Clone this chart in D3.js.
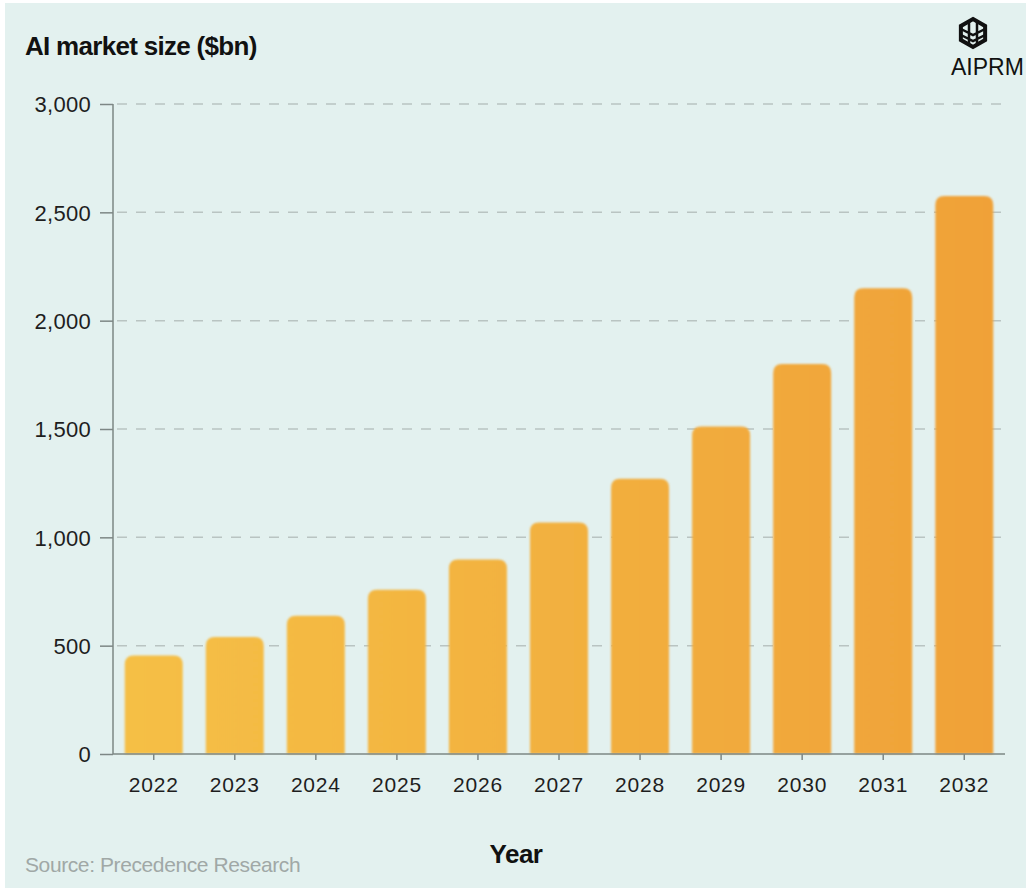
<!DOCTYPE html>
<html><head><meta charset="utf-8">
<script src="https://cdn.jsdelivr.net/npm/d3@7"></script>
<style>
html,body{margin:0;padding:0;background:#fff;}
svg{display:block;}
text{font-family:"Liberation Sans","Helvetica Neue",Arial,sans-serif;}
</style></head>
<body>
<script>
const years = ["2022","2023","2024","2025","2026","2027","2028","2029","2030","2031","2032"];
const marketSize = [455, 540, 638, 758, 898, 1068, 1270, 1512, 1800, 2150, 2575];
const yTicks = [0, 500, 1000, 1500, 2000, 2500, 3000];
const titleText = "AI market size ($bn)";
const xTitle = "Year";
const sourceText = "Source: Precedence Research";
const brand = "AIPRM";

(function () {
const W = 1026, H = 890;
const svg = d3.select("body").append("svg").attr("width", W).attr("height", H);

svg.append("rect").attr("x", 5).attr("y", 3).attr("width", W - 5).attr("height", H - 5).attr("fill", "#e3f1ef");

const defs = svg.append("defs");
const grad = defs.append("linearGradient").attr("id", "barGrad")
  .attr("gradientUnits", "userSpaceOnUse").attr("x1", 113).attr("x2", 1005).attr("y1", 0).attr("y2", 0);
grad.append("stop").attr("offset", "0%").attr("stop-color", "#f5c046");
grad.append("stop").attr("offset", "100%").attr("stop-color", "#f0a138");
const blur = defs.append("filter").attr("id", "soft").attr("x", "-20%").attr("y", "-20%").attr("width", "140%").attr("height", "140%");
blur.append("feGaussianBlur").attr("stdDeviation", 1.2);

const pL = 113, pR = 1005, pT = 104, pB = 754;
const x = d3.scaleBand().domain(years).range([pL, pR]).paddingInner(0.285).paddingOuter(0.145);
const y = d3.scaleLinear().domain([0, 3000]).range([pB, pT]);

// gridlines
svg.append("g").selectAll("line").data(yTicks.filter(d => d > 0)).join("line")
  .attr("x1", pL + 4).attr("x2", pR).attr("y1", d => y(d)).attr("y2", d => y(d))
  .attr("stroke", "#b9c4c2").attr("stroke-width", 1.5).attr("stroke-dasharray", "10,9");

// bars
const r = 9;
svg.append("g").selectAll("path").data(marketSize).join("path")
  .attr("filter", "url(#soft)")
  .attr("fill", "url(#barGrad)")
  .attr("d", (d, i) => {
    const x0 = x(years[i]), w = x.bandwidth(), y0 = y(d), yb = y(0);
    return `M${x0},${yb}V${y0 + r}Q${x0},${y0} ${x0 + r},${y0}H${x0 + w - r}Q${x0 + w},${y0} ${x0 + w},${y0 + r}V${yb}Z`;
  });

// y axis
const yAxis = svg.append("g").attr("transform", `translate(${pL},0)`)
  .call(d3.axisLeft(y).tickValues(yTicks).tickSize(13).tickPadding(9).tickFormat(d3.format(",")));
yAxis.select(".domain").attr("stroke", "#7d8785").attr("stroke-width", 1.5).attr("d", `M0,${pT}V${pB}`);
yAxis.selectAll(".tick line").attr("stroke", "#7d8785").attr("stroke-width", 1.5);
yAxis.selectAll(".tick text").attr("fill", "#1e1e1e").style("font-size", "22px").style("letter-spacing", "0.3px").attr("dy", "0.36em");

// x axis
const xAxis = svg.append("g").attr("transform", `translate(0,${pB})`)
  .call(d3.axisBottom(x).tickSize(6).tickPadding(17));
xAxis.select(".domain").attr("stroke", "#7d8785").attr("stroke-width", 1.5).attr("d", `M${pL},0H${pR}`);
xAxis.selectAll(".tick line").attr("stroke", "#7d8785").attr("stroke-width", 1.5);
xAxis.selectAll(".tick text").attr("fill", "#1e1e1e").style("font-size", "21px").style("letter-spacing", "0.8px");

// titles
svg.append("text").attr("x", 25).attr("y", 55).text(titleText)
  .style("font-size", "26px").style("font-weight", "bold").style("letter-spacing", "-0.7px").attr("fill", "#111");
svg.append("text").attr("x", 516).attr("y", 863).attr("text-anchor", "middle").text(xTitle)
  .style("font-size", "26px").style("font-weight", "bold").style("letter-spacing", "-0.5px").attr("fill", "#111");
svg.append("text").attr("x", 25).attr("y", 872).text(sourceText)
  .style("font-size", "21px").style("letter-spacing", "-0.4px").attr("fill", "#a0a8a6");

// logo
const lg = svg.append("g").attr("transform", "translate(973,33)");
const hex = d3.range(6).map(k => { const a = Math.PI / 3 * k - Math.PI / 2; return [14 * Math.cos(a), 14 * Math.sin(a)]; });
lg.append("path").attr("d", "M" + hex.map(p => p.join(",")).join("L") + "Z")
  .attr("fill", "none").attr("stroke", "#111").attr("stroke-width", 4);
lg.append("path").attr("d", "M-4,-13V13M4,-13V13M-12,-4L0,2L12,-4M-12,2L0,8L12,2")
  .attr("fill", "none").attr("stroke", "#111").attr("stroke-width", 2.5);
svg.append("text").attr("x", 951).attr("y", 75).text(brand)
  .style("font-size", "23px").attr("fill", "#111");
})();
</script>
</body></html>
